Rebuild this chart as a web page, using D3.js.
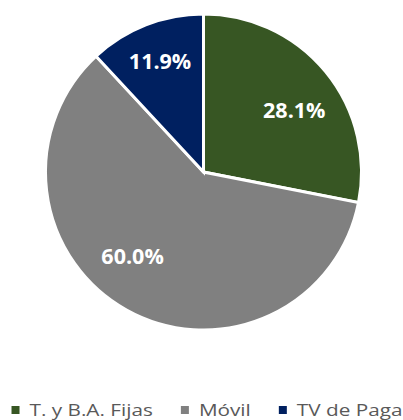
<!DOCTYPE html>
<html lang="en">
<head>
<meta charset="utf-8">
<script src="https://d3js.org/d3.v7.min.js"></script>
<style>
  body { margin: 0; background: #fff; }
</style>
</head>
<body>
<script>
  // chart data
  var categories = ["T. y B.A. Fijas", "Móvil", "TV de Paga"];
  var shares = [28.1, 60.0, 11.9];
  var colors = ["#375623", "#808080", "#002060"];

  var width = 403, height = 420;
  var cx = 203.5, cy = 172, radius = 158;

  // small angle nudges (degrees) so labels sit where the original puts them
  var labelNudge = [5, 11, 0];
  var labelRadius = [110, 110, 119];

  var svg = d3.select("body").append("svg")
    .attr("width", width)
    .attr("height", height);

  var data = categories.map(function(c, i) {
    return { name: c, value: shares[i], color: colors[i], i: i };
  });

  var pie = d3.pie()
    .sort(null)
    .value(function(d) { return d.value; });

  var arc = d3.arc().innerRadius(0).outerRadius(radius);

  var g = svg.append("g").attr("transform", "translate(" + cx + "," + cy + ")");

  var arcs = pie(data);

  g.selectAll("path")
    .data(arcs)
    .join("path")
    .attr("d", arc)
    .attr("fill", function(d) { return d.data.color; })
    .attr("stroke", "#fff")
    .attr("stroke-width", 3)
    .attr("stroke-linejoin", "miter");

  g.selectAll("text.lbl")
    .data(arcs)
    .join("text")
    .attr("class", "lbl")
    .attr("transform", function(d) {
      var a = (d.startAngle + d.endAngle) / 2 + labelNudge[d.data.i] * Math.PI / 180;
      var r = labelRadius[d.data.i];
      return "translate(" + (Math.sin(a) * r) + "," + (-Math.cos(a) * r) + ")";
    })
    .attr("text-anchor", "middle")
    .attr("dy", "0.36em")
    .style("font-family", "'Open Sans', sans-serif")
    .style("font-weight", "bold")
    .style("font-size", "21.5px")
    .style("fill", "#fff")
    .text(function(d) { return d3.format(".1f")(d.data.value) + "%"; });

  // legend (text is a bit wider than the font, so stretch it)
  var stretch = 1.22;
  var legend = svg.append("g");
  var items = legend.selectAll("g.item")
    .data(data)
    .join("g")
    .attr("class", "item");

  items.append("rect")
    .attr("width", 8)
    .attr("height", 8)
    .attr("y", -9.5)
    .attr("fill", function(d) { return d.color; });

  items.append("g")
    .attr("transform", "translate(18,0) scale(" + stretch + ",1)")
    .append("text")
    .style("font-family", "'Open Sans', sans-serif")
    .style("font-size", "17px")
    .style("fill", "#595959")
    .text(function(d) { return d.name; });

  var xPos = 0;
  items.each(function() {
    var item = d3.select(this);
    var w = 18 + stretch * item.select("text").node().getComputedTextLength();
    item.attr("transform", "translate(" + xPos + ",0)");
    xPos += w + 28;
  });
  var totalW = xPos - 28;
  legend.attr("transform", "translate(" + (207 - totalW / 2) + ",415.5)");
</script>
</body>
</html>
